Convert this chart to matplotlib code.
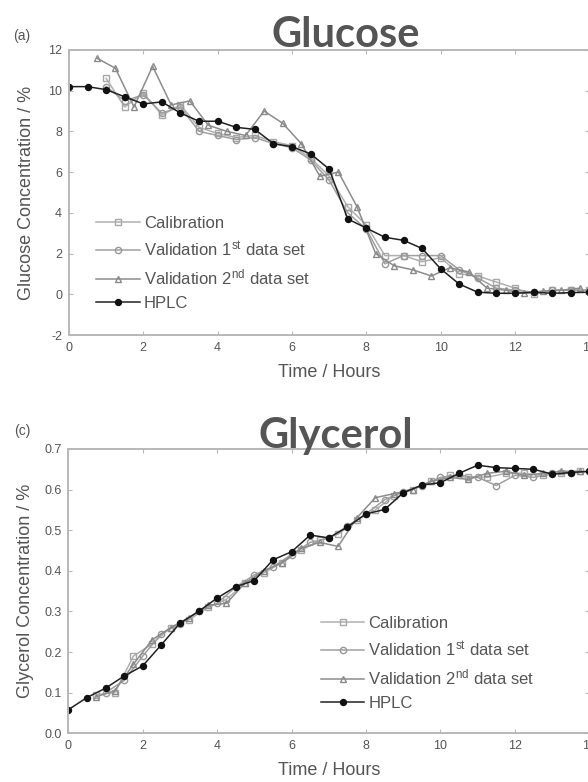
import matplotlib.pyplot as plt

plt.rcParams['font.family'] = ['Liberation Sans', 'DejaVu Sans']
plt.rcParams['mathtext.fontset'] = 'custom'
plt.rcParams['mathtext.rm'] = 'Liberation Sans'
plt.rcParams['mathtext.it'] = 'Liberation Sans:italic'
plt.rcParams['axes.unicode_minus'] = False

# ---- Glucose (panel a) ----
glu_hplc_t = [0, 0.5, 1, 1.5, 2, 2.5, 3, 3.5, 4, 4.5, 5, 5.5, 6, 6.5, 7, 7.5, 8,
              8.5, 9, 9.5, 10, 10.5, 11, 11.5, 12, 12.5, 13, 13.5, 14]
glu_hplc = [10.2, 10.2, 10.05, 9.7, 9.35, 9.45, 8.9, 8.5, 8.5, 8.2, 8.1, 7.4, 7.25,
            6.9, 6.15, 3.7, 3.25, 2.8, 2.65, 2.25, 1.25, 0.5, 0.1, 0.05, 0.05, 0.1,
            0.05, 0.08, 0.1]

glu_cal_t = [1, 1.5, 2, 2.5, 3, 3.5, 4, 4.5, 5, 5.5, 6, 6.5, 7, 7.5, 8, 8.5, 9,
             9.5, 10, 10.5, 11, 11.5, 12, 12.5, 13, 13.5, 14]
glu_cal = [10.6, 9.2, 9.9, 8.8, 9.3, 8.2, 7.9, 7.7, 7.8, 7.5, 7.3, 6.7, 5.8, 4.3,
           3.4, 1.9, 1.9, 1.6, 1.8, 1.0, 0.9, 0.6, 0.3, 0.0, 0.2, 0.2, 0.2]

glu_val1_t = [1, 1.5, 2, 2.5, 3, 3.5, 4, 4.5, 5, 5.5, 6, 6.5, 7, 7.5, 8, 8.5, 9,
              9.5, 10, 10.5, 11, 11.5, 12, 12.5, 13, 13.5, 14]
glu_val1 = [10.2, 9.5, 9.8, 8.9, 9.2, 8.0, 7.8, 7.6, 7.7, 7.4, 7.2, 6.6, 5.6, 4.0,
            3.2, 1.5, 1.9, 1.9, 1.9, 1.2, 0.8, 0.3, 0.2, 0.1, 0.2, 0.2, 0.2]

glu_val2_t = [0.75, 1.25, 1.75, 2.25, 2.75, 3.25, 3.75, 4.25, 4.75, 5.25, 5.75,
              6.25, 6.75, 7.25, 7.75, 8.25, 8.75, 9.25, 9.75, 10.25, 10.75, 11.25,
              11.75, 12.25, 12.75, 13.25, 13.75]
glu_val2 = [11.6, 11.1, 9.2, 11.2, 9.3, 9.5, 8.3, 8.0, 7.8, 9.0, 8.4, 7.4, 5.8,
            6.0, 4.3, 2.0, 1.4, 1.2, 0.9, 1.3, 1.1, 0.3, 0.2, 0.05, 0.15, 0.2, 0.3]

# ---- Glycerol (panel c) ----
gly_hplc_t = glu_hplc_t
gly_hplc = [0.058, 0.088, 0.111, 0.141, 0.166, 0.218, 0.271, 0.300, 0.333, 0.361,
            0.376, 0.427, 0.447, 0.488, 0.481, 0.508, 0.540, 0.551, 0.592, 0.611,
            0.617, 0.640, 0.660, 0.654, 0.652, 0.650, 0.638, 0.642, 0.645]

gly_cal_t = glu_val2_t
gly_cal = [0.095, 0.100, 0.190, 0.220, 0.260, 0.280, 0.310, 0.330, 0.370, 0.395,
           0.420, 0.450, 0.475, 0.490, 0.525, 0.550, 0.585, 0.600, 0.620, 0.635,
           0.630, 0.630, 0.640, 0.640, 0.635, 0.640, 0.645]

gly_val1_t = glu_cal_t
gly_val1 = [0.100, 0.130, 0.190, 0.245, 0.270, 0.300, 0.320, 0.360, 0.390, 0.410,
            0.440, 0.470, 0.480, 0.510, 0.540, 0.575, 0.595, 0.610, 0.630, 0.635,
            0.630, 0.610, 0.635, 0.630, 0.640, 0.640, 0.645]

gly_val2_t = glu_val2_t
gly_val2 = [0.090, 0.105, 0.170, 0.230, 0.260, 0.285, 0.315, 0.320, 0.370, 0.400,
            0.420, 0.455, 0.470, 0.460, 0.530, 0.580, 0.590, 0.600, 0.620, 0.630,
            0.625, 0.640, 0.645, 0.635, 0.640, 0.645, 0.645]

labels = ['Calibration', 'Validation 1$^{\\mathrm{st}}$ data set',
          'Validation 2$^{\\mathrm{nd}}$ data set', 'HPLC']

TXT = '#555555'
FRAME = '#b8b8b8'


def draw_panel(ax, cal, val1, val2, hplc, ylim, yticks, ylabel, legend_pos):
    ax.plot(cal[0], cal[1], '-s', color='#b0b0b0', mfc='none', mec='#a8a8a8',
            ms=4, lw=1.1, label=labels[0])
    ax.plot(val1[0], val1[1], '-o', color='#a0a0a0', mfc='none', mec='#989898',
            ms=4.5, lw=1.1, label=labels[1])
    ax.plot(val2[0], val2[1], '-^', color='#8c8c8c', mfc='none', mec='#8a8a8a',
            ms=4.5, lw=1.1, label=labels[2])
    ax.plot(hplc[0], hplc[1], '-o', color='#222222', mfc='#111111', mec='#111111',
            ms=4.3, lw=1.1, label=labels[3])
    ax.set_xlim(0, 14)
    ax.set_ylim(*ylim)
    ax.set_xticks([0, 2, 4, 6, 8, 10, 12, 14])
    ax.set_yticks(yticks)
    ax.tick_params(direction='in', top=True, right=True, length=3, width=0.8,
                   color=FRAME, labelcolor=TXT, labelsize=9, pad=5)
    for s in ax.spines.values():
        s.set_color(FRAME)
        s.set_linewidth(1.4)
    ax.set_xlabel('Time / Hours', fontsize=13, color=TXT)
    ax.xaxis.set_label_coords(0.5, -0.1)
    ax.set_ylabel(ylabel, fontsize=13, color=TXT)
    ax.yaxis.set_label_coords(-0.066, 0.5)
    leg = ax.legend(loc='upper left', bbox_to_anchor=legend_pos, frameon=False,
                    fontsize=12, handlelength=2.6, handletextpad=0.25,
                    labelspacing=0.5, borderaxespad=0)
    for t in leg.get_texts():
        t.set_color(TXT)


fig = plt.figure(figsize=(5.88, 7.82), dpi=100)
ax1 = fig.add_axes([0.1173, 0.5716, 0.885, 0.3645])
ax2 = fig.add_axes([0.1162, 0.0623, 0.886, 0.3636])

draw_panel(ax1, (glu_cal_t, glu_cal), (glu_val1_t, glu_val1),
           (glu_val2_t, glu_val2), (glu_hplc_t, glu_hplc),
           (-2, 12), [-2, 0, 2, 4, 6, 8, 10, 12],
           'Glucose Concentration / %', (0.04, 0.44))
draw_panel(ax2, (gly_cal_t, gly_cal), (gly_val1_t, gly_val1),
           (gly_val2_t, gly_val2), (gly_hplc_t, gly_hplc),
           (0, 0.7), [0, 0.1, 0.2, 0.3, 0.4, 0.5, 0.6, 0.7],
           'Glycerol Concentration / %', (0.472, 0.435))

fig.text(0.588, 0.940, 'Glucose', family='Lato', weight='bold', fontsize=30,
         color=TXT, ha='center', va='baseline')
fig.text(0.571, 0.427, 'Glycerol', family='Lato', weight='bold', fontsize=30,
         color=TXT, ha='center', va='baseline')
fig.text(0.022, 0.954, '(a)', fontsize=10, color=TXT, ha='left', va='center')
fig.text(0.024, 0.449, '(c)', fontsize=10, color=TXT, ha='left', va='center')

fig.savefig('out.png', dpi=100)
